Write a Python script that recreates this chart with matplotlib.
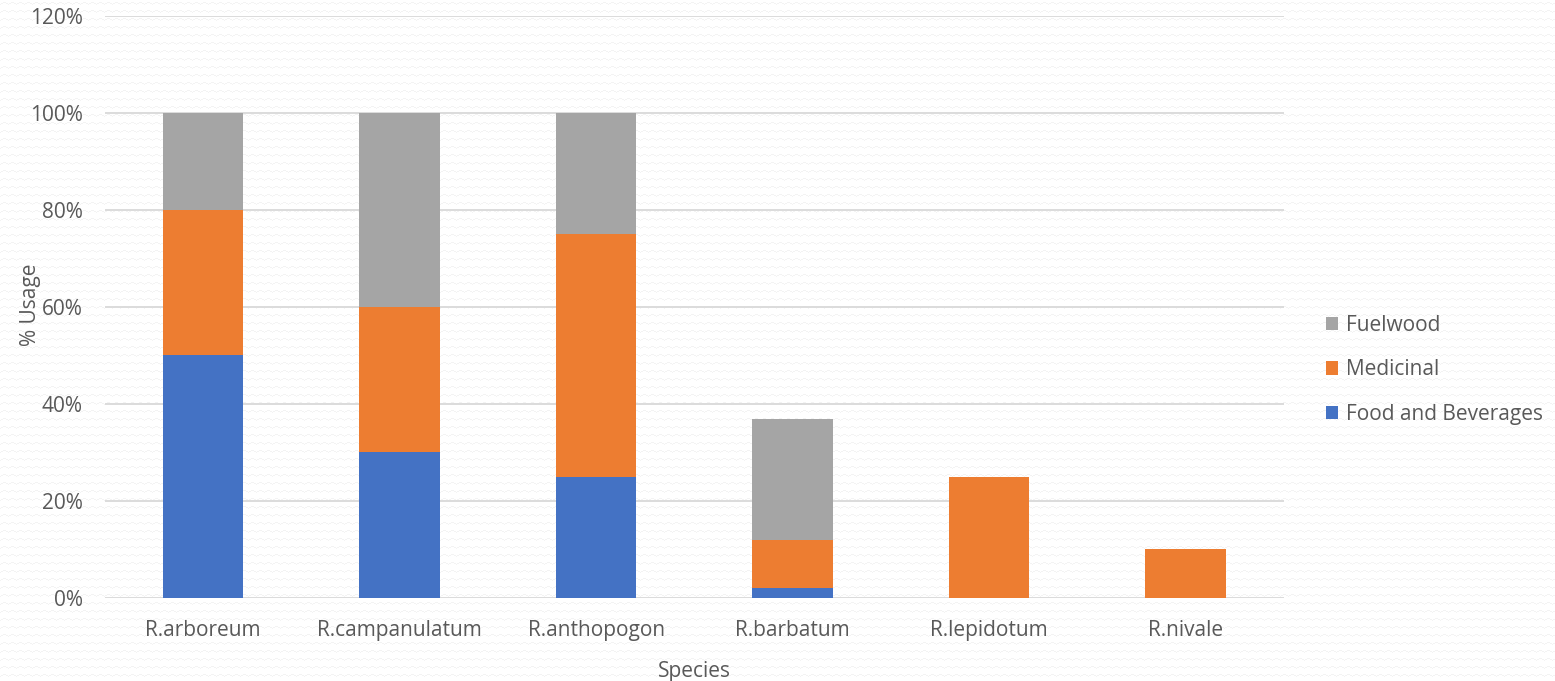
import matplotlib
matplotlib.use("Agg")
import matplotlib.pyplot as plt
from matplotlib.ticker import PercentFormatter
import numpy as np

species = ["R.arboreum", "R.campanulatum", "R.anthopogon", "R.barbatum", "R.lepidotum", "R.nivale"]
food_beverages = [50, 30, 25, 2, 0, 0]
medicinal = [30, 30, 50, 10, 25, 10]
fuelwood = [20, 40, 25, 25, 0, 0]
y_ticks = [0, 20, 40, 60, 80, 100, 120]

plt.rcParams["font.family"] = ["Open Sans", "DejaVu Sans"]
text_color = "#595959"
W, H = 1555, 681

fig = plt.figure(figsize=(W / 100, H / 100), dpi=100)
fig.patch.set_facecolor("white")

# faint zigzag texture for the chart background
bg = np.ones((H, W, 3))
cols = np.arange(W)
tri = np.abs((cols % 8) - 4) // 2
for r0 in range(2, H, 8):
    rows = r0 + tri
    ok = rows < H
    bg[rows[ok], cols[ok]] = 0.955
fig.figimage(bg, xo=0, yo=0, origin="upper", zorder=-5)

ax = fig.add_axes([0.0675, 0.1219, 0.7582, 0.8546])
ax.set_zorder(2)
ax.patch.set_alpha(0)

x = np.arange(len(species))
width = 0.41
food_arr = np.array(food_beverages)
med_arr = np.array(medicinal)
fuel_arr = np.array(fuelwood)

b1 = ax.bar(x, food_arr, width, color="#4472C4", label="Food and Beverages", zorder=3)
b2 = ax.bar(x, med_arr, width, bottom=food_arr, color="#ED7D31", label="Medicinal", zorder=3)
b3 = ax.bar(x, fuel_arr, width, bottom=food_arr + med_arr, color="#A5A5A5", label="Fuelwood", zorder=3)

ax.set_xlim(-0.5, len(species) - 0.5)
ax.set_ylim(0, 120)
ax.set_yticks(y_ticks)
ax.yaxis.set_major_formatter(PercentFormatter(decimals=0))
ax.set_xticks(x)
ax.set_xticklabels(species)
ax.grid(axis="y", color="#D9D9D9", linewidth=1.3, zorder=0)
for s in ax.spines.values():
    s.set_visible(False)
ax.tick_params(axis="both", length=0, labelsize=15, labelcolor=text_color)
ax.tick_params(axis="y", pad=16)
ax.tick_params(axis="x", pad=16)

ax.set_ylabel("% Usage", fontsize=15, color=text_color)
ax.yaxis.set_label_coords(-0.0545, 0.503)
ax.set_xlabel("Species", fontsize=15, color=text_color, labelpad=14)

handles = [b3, b2, b1]
leg = fig.legend(handles, [h.get_label() for h in handles], loc="center left",
                 bbox_to_anchor=(0.8405, 0.457), frameon=False, fontsize=15,
                 handlelength=0.6, handleheight=0.6, handletextpad=0.35,
                 labelspacing=1.12, labelcolor=text_color)
leg.set_zorder(3)

fig.savefig("out.png", dpi=100, facecolor="white")
